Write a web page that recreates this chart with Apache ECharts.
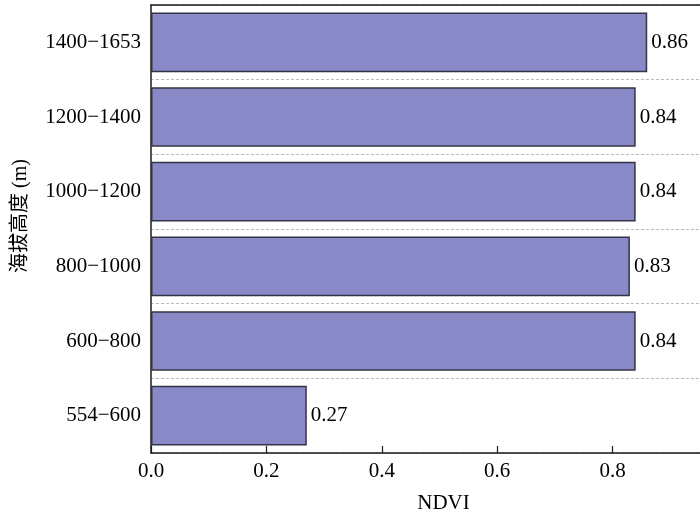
<!DOCTYPE html>
<html>
<head>
<meta charset="utf-8">
<script src="https://cdn.jsdelivr.net/npm/echarts@6/dist/echarts.min.js"></script>
<style>
  html, body { margin: 0; padding: 0; background: #fff; }
  #chart { width: 700px; height: 514px; }
</style>
</head>
<body>
<div id="chart"></div>
<script>
// Elevation bands (bottom to top) and their mean NDVI
const elevationBands = ['554\u2212600', '600\u2212800', '800\u22121000', '1000\u22121200', '1200\u22121400', '1400\u22121653'];
const ndviValues = [0.27, 0.84, 0.83, 0.84, 0.84, 0.86];
const xTicks = [0.0, 0.2, 0.4, 0.6, 0.8];

const serif = '"Liberation Serif", "Times New Roman", serif';
const axisColor = '#1a1a1a';
const textColor = '#000';

const chart = echarts.init(document.getElementById('chart'));
chart.setOption({
  animation: false,
  // the value axis runs on a little past the right edge of the canvas
  grid: { left: 151, right: -28, top: 5, bottom: 61, containLabel: false, outerBoundsMode: 'none' },
  xAxis: [{
    type: 'value',
    min: 0,
    max: 1.0,
    interval: 0.2,
    name: 'NDVI',
    nameLocation: 'middle',
    nameGap: 40,
    nameTextStyle: { fontFamily: serif, fontSize: 21, color: textColor, padding: [0, 0, 0, 8] },
    axisLine: { show: true, lineStyle: { color: axisColor, width: 1.5 } },
    axisTick: { show: true, inside: true, length: 7, customValues: xTicks, lineStyle: { color: axisColor, width: 1.2 } },
    axisLabel: {
      fontFamily: serif, fontSize: 21, color: textColor, margin: 8,
      customValues: xTicks,
      formatter: v => v.toFixed(1)
    },
    splitLine: { show: false }
  }, {
    type: 'value',
    position: 'top',
    min: 0,
    max: 1.0,
    axisLine: { show: true, lineStyle: { color: axisColor, width: 1.5 } },
    axisTick: { show: false },
    axisLabel: { show: false },
    splitLine: { show: false }
  }],
  yAxis: {
    type: 'category',
    data: elevationBands,
    name: '海拔高度 (m)',
    nameLocation: 'middle',
    nameGap: 120,
    nameRotate: 90,
    nameTextStyle: { fontFamily: serif + ', "Noto Sans CJK SC"', fontSize: 20, color: textColor, padding: [0, 0, 0, 26] },
    axisLine: { show: true, lineStyle: { color: axisColor, width: 1.5 } },
    axisTick: { show: true, inside: true, alignWithLabel: true, length: 7, lineStyle: { color: axisColor, width: 1.2 } },
    axisLabel: { fontFamily: serif, fontSize: 21, color: textColor, margin: 10 },
    splitLine: { show: true, lineStyle: { color: '#bbb', type: [3, 2], width: 1 } }
  },
  series: [{
    type: 'bar',
    xAxisIndex: 0,
    data: ndviValues,
    barCategoryGap: '20%',
    itemStyle: { color: '#8889c6', borderColor: '#343444', borderWidth: 1.5 },
    label: {
      show: true,
      position: 'right',
      distance: 4,
      fontFamily: serif,
      fontSize: 21,
      color: textColor,
      formatter: p => p.value.toFixed(2)
    }
  }]
});
</script>
</body>
</html>
